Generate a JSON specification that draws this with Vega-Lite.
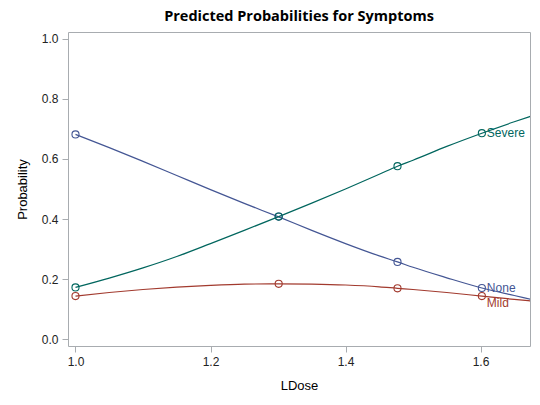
{
  "$schema": "https://vega.github.io/schema/vega-lite/v6.json",
  "autosize": {"type": "none"},
  "padding": {"left": 68, "top": 32, "right": 10, "bottom": 59},
  "width": 462,
  "height": 314,
  "background": "white",
  "title": {
    "text": "Predicted Probabilities for Symptoms",
    "font": "Open Sans",
    "fontSize": 14.5,
    "fontWeight": "bold",
    "color": "black",
    "anchor": "middle",
    "offset": 8
  },
  "datasets": {
    "curve": [
      {"LDose": 1.0, "Prob": 0.682, "Symptom": "None"},
      {"LDose": 1.05, "Prob": 0.638, "Symptom": "None"},
      {"LDose": 1.1, "Prob": 0.592, "Symptom": "None"},
      {"LDose": 1.15, "Prob": 0.545, "Symptom": "None"},
      {"LDose": 1.2, "Prob": 0.498, "Symptom": "None"},
      {"LDose": 1.25, "Prob": 0.452, "Symptom": "None"},
      {"LDose": 1.301, "Prob": 0.407, "Symptom": "None"},
      {"LDose": 1.35, "Prob": 0.362, "Symptom": "None"},
      {"LDose": 1.4, "Prob": 0.318, "Symptom": "None"},
      {"LDose": 1.45, "Prob": 0.277, "Symptom": "None"},
      {"LDose": 1.477, "Prob": 0.257, "Symptom": "None"},
      {"LDose": 1.5, "Prob": 0.239, "Symptom": "None"},
      {"LDose": 1.55, "Prob": 0.204, "Symptom": "None"},
      {"LDose": 1.602, "Prob": 0.170, "Symptom": "None"},
      {"LDose": 1.65, "Prob": 0.145, "Symptom": "None"},
      {"LDose": 1.675, "Prob": 0.132, "Symptom": "None"},
      {"LDose": 1.0, "Prob": 0.143, "Symptom": "Mild"},
      {"LDose": 1.05, "Prob": 0.155, "Symptom": "Mild"},
      {"LDose": 1.1, "Prob": 0.165, "Symptom": "Mild"},
      {"LDose": 1.15, "Prob": 0.173, "Symptom": "Mild"},
      {"LDose": 1.2, "Prob": 0.179, "Symptom": "Mild"},
      {"LDose": 1.25, "Prob": 0.183, "Symptom": "Mild"},
      {"LDose": 1.301, "Prob": 0.184, "Symptom": "Mild"},
      {"LDose": 1.35, "Prob": 0.183, "Symptom": "Mild"},
      {"LDose": 1.4, "Prob": 0.180, "Symptom": "Mild"},
      {"LDose": 1.45, "Prob": 0.174, "Symptom": "Mild"},
      {"LDose": 1.477, "Prob": 0.169, "Symptom": "Mild"},
      {"LDose": 1.5, "Prob": 0.165, "Symptom": "Mild"},
      {"LDose": 1.55, "Prob": 0.155, "Symptom": "Mild"},
      {"LDose": 1.602, "Prob": 0.143, "Symptom": "Mild"},
      {"LDose": 1.65, "Prob": 0.132, "Symptom": "Mild"},
      {"LDose": 1.675, "Prob": 0.127, "Symptom": "Mild"},
      {"LDose": 1.0, "Prob": 0.172, "Symptom": "Severe"},
      {"LDose": 1.05, "Prob": 0.203, "Symptom": "Severe"},
      {"LDose": 1.1, "Prob": 0.237, "Symptom": "Severe"},
      {"LDose": 1.15, "Prob": 0.275, "Symptom": "Severe"},
      {"LDose": 1.2, "Prob": 0.318, "Symptom": "Severe"},
      {"LDose": 1.25, "Prob": 0.362, "Symptom": "Severe"},
      {"LDose": 1.301, "Prob": 0.408, "Symptom": "Severe"},
      {"LDose": 1.35, "Prob": 0.453, "Symptom": "Severe"},
      {"LDose": 1.4, "Prob": 0.500, "Symptom": "Severe"},
      {"LDose": 1.45, "Prob": 0.549, "Symptom": "Severe"},
      {"LDose": 1.477, "Prob": 0.576, "Symptom": "Severe"},
      {"LDose": 1.5, "Prob": 0.596, "Symptom": "Severe"},
      {"LDose": 1.55, "Prob": 0.642, "Symptom": "Severe"},
      {"LDose": 1.602, "Prob": 0.686, "Symptom": "Severe"},
      {"LDose": 1.65, "Prob": 0.724, "Symptom": "Severe"},
      {"LDose": 1.675, "Prob": 0.743, "Symptom": "Severe"}
    ],
    "obs": [
      {"LDose": 1.0, "Prob": 0.682, "Symptom": "None"},
      {"LDose": 1.301, "Prob": 0.408, "Symptom": "None"},
      {"LDose": 1.477, "Prob": 0.257, "Symptom": "None"},
      {"LDose": 1.602, "Prob": 0.170, "Symptom": "None"},
      {"LDose": 1.0, "Prob": 0.143, "Symptom": "Mild"},
      {"LDose": 1.301, "Prob": 0.184, "Symptom": "Mild"},
      {"LDose": 1.477, "Prob": 0.169, "Symptom": "Mild"},
      {"LDose": 1.602, "Prob": 0.143, "Symptom": "Mild"},
      {"LDose": 1.0, "Prob": 0.172, "Symptom": "Severe"},
      {"LDose": 1.301, "Prob": 0.408, "Symptom": "Severe"},
      {"LDose": 1.477, "Prob": 0.576, "Symptom": "Severe"},
      {"LDose": 1.602, "Prob": 0.686, "Symptom": "Severe"}
    ]
  },
  "encoding": {
    "x": {
      "field": "LDose",
      "type": "quantitative",
      "title": "LDose",
      "scale": {"domain": [0.9889, 1.6733], "nice": false, "zero": false},
      "axis": {"values": [1.0, 1.2, 1.4, 1.6], "format": ".1f", "titlePadding": 12}
    },
    "y": {
      "field": "Prob",
      "type": "quantitative",
      "title": "Probability",
      "scale": {"domain": [-0.0233, 1.0233], "nice": false, "zero": false},
      "axis": {"values": [0, 0.2, 0.4, 0.6, 0.8, 1.0], "format": ".1f", "titlePadding": 12}
    },
    "color": {
      "field": "Symptom",
      "type": "nominal",
      "scale": {"domain": ["None", "Mild", "Severe"], "range": ["#445694", "#A23A2E", "#01665E"]},
      "legend": null
    }
  },
  "layer": [
    {
      "data": {"name": "curve"},
      "mark": {"type": "line", "strokeWidth": 1.2, "clip": true, "interpolate": "monotone"},
      "encoding": {"detail": {"field": "Symptom"}}
    },
    {
      "data": {"name": "obs"},
      "mark": {"type": "point", "shape": "circle", "filled": false, "size": 50, "strokeWidth": 1.1, "opacity": 1}
    },
    {
      "data": {"name": "obs"},
      "transform": [{"filter": "datum.LDose == 1.602 && datum.Symptom != 'Mild'"}],
      "mark": {"type": "text", "align": "left", "baseline": "middle", "dx": 5, "font": "Liberation Sans", "fontSize": 12},
      "encoding": {"text": {"field": "Symptom"}}
    },
    {
      "data": {"name": "obs"},
      "transform": [{"filter": "datum.LDose == 1.602 && datum.Symptom == 'Mild'"}],
      "mark": {"type": "text", "align": "left", "baseline": "middle", "dx": 5, "dy": 7, "font": "Liberation Sans", "fontSize": 12},
      "encoding": {"text": {"field": "Symptom"}}
    }
  ],
  "config": {
    "view": {"stroke": "#A8ACB0", "strokeWidth": 1},
    "axis": {
      "grid": false,
      "domain": false,
      "tickColor": "#A8ACB0",
      "tickSize": 6,
      "labelFont": "Liberation Sans",
      "labelFontSize": 12,
      "labelColor": "#222222",
      "labelPadding": 4,
      "titleFont": "Liberation Sans",
      "titleFontSize": 13,
      "titleFontWeight": "normal",
      "titleColor": "#000000"
    }
  }
}
